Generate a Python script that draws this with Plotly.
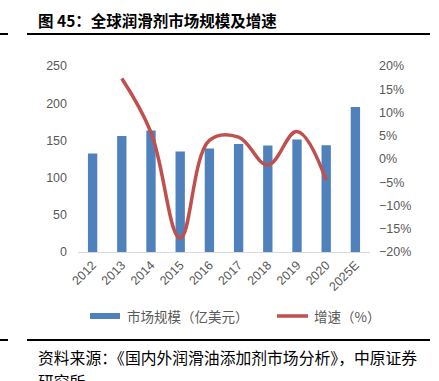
import plotly.graph_objects as go

years = ["2012", "2013", "2014", "2015", "2016", "2017", "2018", "2019", "2020", "2025E"]
market_size = [132.5, 155.8, 163.4, 135.1, 139.2, 145.0, 143.2, 151.3, 143.6, 194.8]
growth = [None, 0.173, 0.057, -0.170, 0.040, 0.047, -0.013, 0.059, -0.046, None]
left_ticks = [0, 50, 100, 150, 200, 250]
right_ticks = [-0.20, -0.15, -0.10, -0.05, 0.0, 0.05, 0.10, 0.15, 0.20]

W, H = 439, 381
L, R, T, B = 78, 370, 66, 252

def px(x):
    return (x - L) / (R - L)

def py(y):
    return (B - y) / (B - T)

BAR = "#4F81BD"
RED = "#C0504D"
GRAY = "#595959"
CJK = "Noto Sans CJK SC"
TICKFONT = dict(family="Liberation Sans", size=12.5, color=GRAY)

fig = go.Figure()
fig.add_trace(go.Bar(x=years, y=market_size, marker=dict(color=BAR, line=dict(width=0)),
                     name="市场规模（亿美元）", showlegend=False))
fig.add_trace(go.Scatter(x=years, y=growth, yaxis="y2", mode="lines",
                         line=dict(color=RED, width=3.5, shape="spline", smoothing=1.1),
                         name="增速（%）", showlegend=False, connectgaps=False))

shapes = [
    dict(type="line", xref="paper", yref="paper", x0=px(27), x1=px(430), y0=py(34), y1=py(34),
         line=dict(color="black", width=2)),
    dict(type="line", xref="paper", yref="paper", x0=px(0), x1=px(8), y0=py(34), y1=py(34),
         line=dict(color="black", width=2)),
    dict(type="line", xref="paper", yref="paper", x0=px(27), x1=px(430), y0=py(340), y1=py(340),
         line=dict(color="black", width=2)),
    dict(type="line", xref="paper", yref="paper", x0=px(0), x1=px(8), y0=py(340), y1=py(340),
         line=dict(color="black", width=2)),
    dict(type="rect", xref="paper", yref="paper", x0=px(90), x1=px(120), y0=py(319), y1=py(313),
         fillcolor=BAR, line=dict(width=0)),
    dict(type="line", xref="paper", yref="paper", x0=px(277), x1=px(308), y0=py(316), y1=py(316),
         line=dict(color=RED, width=3.5)),
]

annotations = [
    dict(text="<b>图 45：全球润滑剂市场规模及增速</b>", xref="paper", yref="paper",
         x=px(36), y=py(20), xanchor="left", yanchor="middle", showarrow=False,
         font=dict(family=CJK, size=15.5, color="black")),
    dict(text="市场规模（亿美元）", xref="paper", yref="paper",
         x=px(125), y=py(316), xanchor="left", yanchor="middle", showarrow=False,
         font=dict(family=CJK, size=13.5, color=GRAY)),
    dict(text="增速（%）", xref="paper", yref="paper",
         x=px(312), y=py(316), xanchor="left", yanchor="middle", showarrow=False,
         font=dict(family=CJK, size=13.5, color=GRAY)),
    dict(text="资料来源：《国内外润滑油添加剂市场分析》，中原证券", xref="paper", yref="paper",
         x=px(36), y=py(357), xanchor="left", yanchor="middle", showarrow=False,
         font=dict(family=CJK, size=15.8, color="black")),
    dict(text="研究所", xref="paper", yref="paper",
         x=px(36), y=py(381), xanchor="left", yanchor="middle", showarrow=False,
         font=dict(family=CJK, size=15.8, color="black")),
]

fig.update_layout(
    width=W, height=H,
    margin=dict(l=L, r=W - R, t=T, b=H - B, pad=0),
    paper_bgcolor="white", plot_bgcolor="white",
    bargap=0.68,
    xaxis=dict(type="category", tickangle=-45, showgrid=False, showline=True,
               linecolor="#D9D9D9", linewidth=1, ticks="", tickfont=TICKFONT),
    yaxis=dict(range=[0, 250], tickvals=left_ticks, showgrid=False, zeroline=False,
               showline=False, ticks="", ticklabelstandoff=10, tickfont=TICKFONT),
    yaxis2=dict(range=[-0.2, 0.2], tickvals=right_ticks, tickformat=".0%", overlaying="y",
                side="right", showgrid=False, zeroline=False, showline=False, ticks="",
                ticklabelstandoff=8, tickfont=TICKFONT),
    shapes=shapes, annotations=annotations,
)

fig.write_html("out.html", config={"displayModeBar": False},
               post_script="document.body.style.margin='0';document.body.style.overflow='hidden';")
